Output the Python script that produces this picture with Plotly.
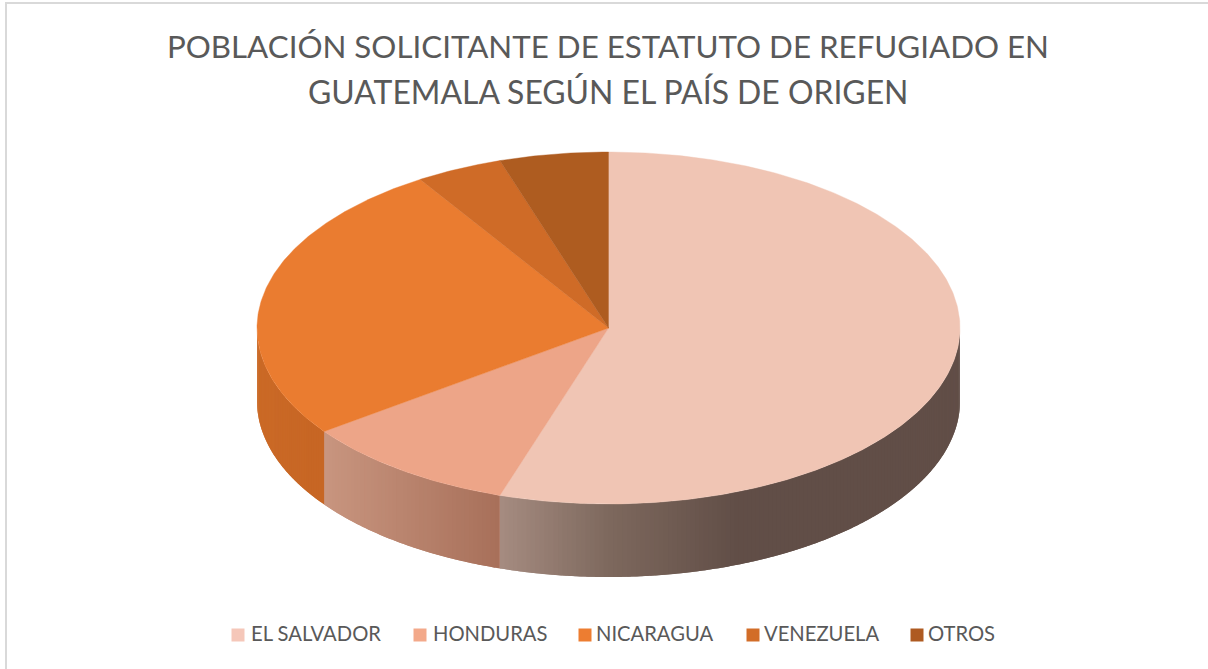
import numpy as np
import plotly.graph_objects as go

title_lines = ["POBLACIÓN SOLICITANTE DE ESTATUTO DE REFUGIADO EN", "GUATEMALA SEGÚN EL PAÍS DE ORIGEN"]
categories = ["EL SALVADOR", "HONDURAS", "NICARAGUA", "VENEZUELA", "OTROS"]
values = [55, 10, 26, 4, 5]

top_colors = ["#F0C5B4", "#EDA588", "#EA7C30", "#CF6B27", "#AE5C20"]
legend_colors = ["#F5C7B9", "#F3A98A", "#ED7D31", "#D26D28", "#AE5A21"]
legend_swatch_x = [238, 420, 585, 753, 917]
legend_text_x = [251, 433, 596, 764, 928]
legend_y = 635

# wall shading: per slice, (x pixel, colour) stops
wall_stops = [
    [(500, "#A68C81"), (608, "#7E695E"), (740, "#614E47"), (960, "#614E47")],
    [(323, "#C99680"), (500, "#A8705A")],
    [(257, "#CB6A27"), (323, "#C76624")],
    [(257, "#CB6A27"), (323, "#C76624")],
    [(257, "#CB6A27"), (323, "#C76624")],
]

CX, CY, RX, RY, DEPTH = 608.5, 328.0, 351.5, 176.0, 73.0


def rgb(h):
    return np.array([int(h[i:i + 2], 16) for i in (1, 3, 5)], float)


def shade(stops, x):
    xs = [s[0] for s in stops]
    cs = np.array([rgb(s[1]) for s in stops])
    return "rgb(%d,%d,%d)" % tuple(np.interp(x, xs, cs[:, i]) for i in range(3))


def rim(t):
    a = np.radians(t)
    return CX + RX * np.sin(a), CY - RY * np.cos(a)


fig = go.Figure()
edges = np.concatenate([[0], np.cumsum(values)]) / sum(values) * 360

# side walls (front half only); each strip overlaps the next so no seams show
for i, stops in enumerate(wall_stops):
    lo, hi = max(edges[i], 90), min(edges[i + 1], 270)
    if hi <= lo:
        continue
    n = max(1, int((hi - lo) / 0.75))
    ts = np.linspace(lo, hi, n + 1)
    step = ts[1] - ts[0]
    for a, b in zip(ts[:-1], ts[1:]):
        tt = np.linspace(a, min(b + step, hi), 4)
        x, y = rim(tt)
        px = list(x) + list(x[::-1]) + [x[0]]
        py = list(y) + list(y[::-1] + DEPTH) + [y[0]]
        col = shade(stops, float(rim((a + b) / 2)[0]))
        fig.add_trace(go.Scatter(x=px, y=py, mode="none", fill="toself", fillcolor=col,
                                 hoverinfo="skip", showlegend=False))

# top faces
for i, cat in enumerate(categories):
    tt = np.linspace(edges[i], edges[i + 1], max(3, int(edges[i + 1] - edges[i]) * 2))
    x, y = rim(tt)
    fig.add_trace(go.Scatter(x=[CX] + list(x) + [CX], y=[CY] + list(y) + [CY], mode="lines",
                             fill="toself", fillcolor=top_colors[i], line=dict(color=top_colors[i], width=0.4),
                             name=cat, hoverinfo="name", showlegend=False))

# legend row
for i, cat in enumerate(categories):
    fig.add_trace(go.Scatter(x=[legend_swatch_x[i]], y=[legend_y], mode="markers",
                             marker=dict(symbol="square", size=13, color=legend_colors[i], line=dict(width=0)),
                             hoverinfo="skip", showlegend=False))
    fig.add_trace(go.Scatter(x=[legend_text_x[i]], y=[legend_y + 1], mode="text", text=[cat],
                             textposition="middle right",
                             textfont=dict(family="Lato", size=20.2, color="#595959"),
                             hoverinfo="skip", showlegend=False))

fig.update_layout(
    width=1208, height=669, margin=dict(l=0, r=0, t=0, b=0),
    paper_bgcolor="white", plot_bgcolor="white",
    xaxis=dict(range=[0, 1208], visible=False, fixedrange=True),
    yaxis=dict(range=[669, 0], visible=False, fixedrange=True),
    title=dict(text=title_lines[0], x=608 / 1208, xanchor="center", y=1 - 47 / 669, yanchor="middle",
               font=dict(family="Lato", size=31.3, color="#595959")),
    annotations=[dict(text=title_lines[1], x=608, y=92, xref="x", yref="y", xanchor="center", yanchor="middle",
                      showarrow=False, font=dict(family="Lato", size=31.9, color="#595959"))],
    shapes=[
        dict(type="line", x0=6, x1=6, y0=2, y1=669, line=dict(color="#D9D9D9", width=2)),
        dict(type="line", x0=5, x1=1208, y0=3, y1=3, line=dict(color="#D9D9D9", width=2)),
    ],
)

fig.write_html("out.html", config=dict(displayModeBar=False),
               post_script="document.body.style.margin='0';document.documentElement.style.overflow='hidden';")
